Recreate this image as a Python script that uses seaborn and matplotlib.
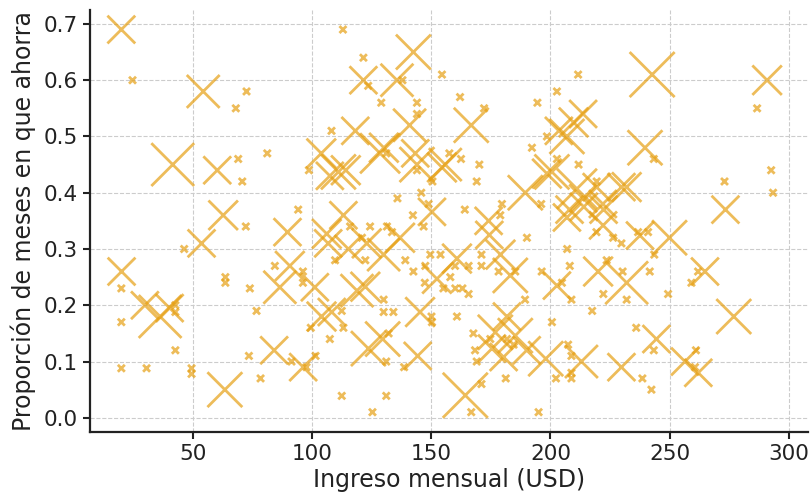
import pandas as pd
import matplotlib.pyplot as plt
import seaborn as sns

# valores: ingreso (USD), proporcion de meses, tamano del marcador
ingreso = [
    19.7, 24.4, 54.1, 72.3, 67.8, 41.3, 60.0, 68.8, 70.5, 81.0, 103.7, 107.3, 98.5, 108.0, 94.0, 62.5, 89.5,
    19.8, 29.6, 36.0, 40.0, 19.7, 19.7, 42.4, 42.4, 42.4, 19.7, 30.3, 46.1, 53.4, 72.0, 63.4, 63.4, 73.7,
    76.5, 63.2, 49.2, 49.2, 73.3, 78.2, 83.9, 96.1, 91.2, 97.5, 101.3, 90.5, 86.3, 84.2, 96.0, 96.0, 101.0,
    103.8, 99.3, 107.3, 106.6,
    112.8, 142.4, 121.4, 121.4, 135.5, 123.4, 137.8, 154.4, 128.9, 143.9, 143.9, 162.0, 166.7, 172.1, 194.5,
    202.7, 118.0, 140.8, 128.4, 130.0, 143.2, 155.8, 131.0, 157.5, 162.4, 170.1, 169.0, 143.9, 150.4, 145.7,
    135.7, 110.9, 114.0, 189.4, 200.6, 203.5, 192.2, 198.5, 179.6, 164.0, 196.1, 142.2, 150.2, 113.0, 174.0,
    143.9, 154.4, 148.8, 206.9, 209.7, 202.7, 211.8, 198.5, 211.1, 219.4, 219.4, 214.0, 206.9, 222.3, 178.9,
    211.6, 242.7, 291.0, 286.8, 213.7, 239.7, 243.4, 273.1, 292.7, 293.5, 273.5, 229.8, 232.0, 213.7, 222.0,
    208.0,
    190.1, 174.3, 149.5, 153.8, 160.7, 147.4, 157.9, 155.0, 160.0, 163.0, 165.6, 152.3, 183.1, 171.0, 171.0,
    178.2, 179.0, 189.3, 202.7, 196.3, 160.7, 150.2, 176.8, 185.2, 175.4, 198.0, 167.6, 168.3, 169.0, 181.2,
    171.0, 164.2, 166.7, 195.0, 112.3, 131.0, 125.2, 123.5, 129.5, 144.2, 131.0, 138.5, 113.0, 118.7, 129.9,
    129.9, 134.0, 145.2, 150.0, 142.4, 139.0, 129.9, 115.1, 122.2, 109.5, 108.1, 122.2,
    124.2, 131.3, 133.4, 120.8, 115.8, 146.7, 147.2, 112.3, 106.0, 122.8, 136.8,
    223.6, 204.8, 185.2, 159.9, 165.6, 200.6, 181.7,
    237.6, 250.0, 219.3, 226.3, 229.8, 236.8, 241.0, 243.6, 207.0, 264.9, 262.0, 259.2, 220.0, 232.0, 208.1,
    230.3, 241.7, 249.4, 222.2, 232.0, 208.8, 217.5, 277.0, 244.5, 236.0, 243.4, 213.0, 229.8, 207.4, 208.8,
    208.8, 208.8, 238.6, 242.4, 256.5, 262.1, 261.1, 260.7, 222.1,
    132.0, 180.3, 174.7, 181.7, 184.5, 202.3, 190.0,
]
proporcion = [
    0.69, 0.60, 0.58, 0.58, 0.55, 0.45, 0.44, 0.46, 0.42, 0.47, 0.47, 0.43, 0.44, 0.51, 0.37, 0.36, 0.33,
    0.26, 0.20, 0.18, 0.195, 0.23, 0.17, 0.20, 0.188, 0.12, 0.088, 0.088, 0.30, 0.31, 0.34, 0.25, 0.24, 0.23,
    0.19, 0.05, 0.088, 0.078, 0.11, 0.07, 0.12, 0.09, 0.10, 0.09, 0.11, 0.27, 0.232, 0.27, 0.26, 0.24, 0.232,
    0.18, 0.16, 0.14, 0.31,
    0.69, 0.65, 0.64, 0.60, 0.60, 0.59, 0.60, 0.61, 0.56, 0.56, 0.54, 0.57, 0.52, 0.55, 0.56,
    0.58, 0.51, 0.52, 0.47, 0.48, 0.47, 0.45, 0.47, 0.47, 0.46, 0.45, 0.42, 0.44, 0.42, 0.40,
    0.39, 0.437, 0.44, 0.40, 0.437, 0.51, 0.48, 0.50, 0.38, 0.37, 0.38, 0.36, 0.366, 0.36, 0.35,
    0.45, 0.445, 0.38, 0.50, 0.525, 0.46, 0.45, 0.434, 0.407, 0.41, 0.42, 0.375, 0.356, 0.37, 0.36,
    0.61, 0.61, 0.60, 0.55, 0.54, 0.48, 0.46, 0.42, 0.44, 0.40, 0.37, 0.41, 0.41, 0.39, 0.38,
    0.37,
    0.32, 0.325, 0.29, 0.29, 0.283, 0.27, 0.25, 0.23, 0.23, 0.23, 0.22, 0.247, 0.253, 0.29, 0.27,
    0.26, 0.29, 0.21, 0.235, 0.26, 0.18, 0.17, 0.152, 0.146, 0.123, 0.105, 0.15, 0.12, 0.10, 0.07,
    0.06, 0.04, 0.01, 0.01, 0.039, 0.039, 0.01, 0.123, 0.14, 0.11, 0.10, 0.09, 0.16, 0.226, 0.21,
    0.188, 0.188, 0.188, 0.18, 0.26, 0.28, 0.29, 0.30, 0.28, 0.28, 0.188, 0.233,
    0.34, 0.34, 0.33, 0.32, 0.34, 0.34, 0.24, 0.19, 0.327, 0.31, 0.32,
    0.28, 0.24, 0.26, 0.27, 0.27, 0.17, 0.18,
    0.324, 0.32, 0.33, 0.32, 0.31, 0.33, 0.33, 0.29, 0.30, 0.26, 0.26, 0.24, 0.26, 0.24, 0.27,
    0.26, 0.26, 0.22, 0.22, 0.21, 0.21, 0.19, 0.18, 0.14, 0.16, 0.12, 0.10, 0.09, 0.13, 0.11,
    0.08, 0.07, 0.07, 0.05, 0.10, 0.08, 0.12, 0.09, 0.342,
    0.15, 0.108, 0.14, 0.14, 0.13, 0.07, 0.12,
]
tamano = [
    400, 25, 560, 25, 25, 950, 400, 25, 25, 25, 450, 400, 25, 25, 25, 450, 400,
    400, 400, 950, 400, 25, 25, 25, 25, 25, 25, 25, 25, 400, 25, 25, 25, 25,
    25, 630, 25, 25, 25, 25, 400, 400, 25, 25, 25, 450, 560, 25, 25, 25, 400,
    450, 25, 25, 400,
    25, 630, 25, 400, 560, 25, 25, 25, 25, 25, 25, 25, 630, 25, 25,
    25, 400, 560, 830, 450, 400, 560, 25, 25, 25, 25, 25, 25, 25, 25,
    25, 630, 450, 630, 630, 400, 25, 25, 25, 25, 25, 25, 400, 400, 400,
    630, 450, 25, 630, 450, 25, 25, 450, 830, 400, 25, 400, 400, 400, 25,
    25, 1050, 450, 25, 400, 630, 25, 25, 25, 25, 400, 400, 450, 400, 400,
    400,
    25, 400, 25, 25, 450, 25, 25, 25, 25, 25, 25, 450, 630, 25, 25,
    25, 450, 25, 400, 25, 25, 25, 630, 630, 400, 630, 25, 25, 25, 25,
    25, 1050, 25, 25, 25, 25, 25, 630, 630, 400, 25, 25, 25, 560, 25,
    25, 25, 450, 25, 25, 25, 560, 400, 25, 25, 400, 450,
    25, 25, 25, 25, 25, 25, 25, 25, 450, 450, 450,
    25, 25, 25, 25, 25, 25, 400,
    400, 630, 25, 25, 25, 25, 25, 25, 25, 400, 25, 25, 450, 950, 25,
    25, 25, 25, 25, 25, 25, 25, 630, 400, 25, 25, 560, 400, 25, 25,
    25, 25, 25, 25, 400, 400, 25, 25, 400,
    25, 400, 25, 25, 25, 25, 400,
]

df = pd.DataFrame({"ingreso": ingreso, "proporcion": proporcion, "tamano": tamano})

sns.set_style("whitegrid", {"grid.linestyle": "--", "grid.color": "#cccccc",
                            "axes.edgecolor": "#222222", "text.color": "#222222",
                            "axes.labelcolor": "#222222", "xtick.color": "#222222",
                            "ytick.color": "#222222"})
plt.rcParams["font.family"] = ["DejaVu Sans"]

fig, ax = plt.subplots(figsize=(8.1, 4.93), dpi=100)
sns.scatterplot(data=df, x="ingreso", y="proporcion", size="tamano",
                sizes=(25, 1050), size_norm=(25, 1050), marker="x",
                color="#e6a014", alpha=0.7, linewidth=2, legend=False, ax=ax)

ax.set_xlim(6.5, 308)
ax.set_ylim(-0.025, 0.725)
ax.set_xticks([50, 100, 150, 200, 250, 300])
ax.set_yticks([0.0, 0.1, 0.2, 0.3, 0.4, 0.5, 0.6, 0.7])
ax.set_yticklabels([f"{v:.1f}" for v in ax.get_yticks()])
ax.set_xlabel("Ingreso mensual (USD)", fontsize=17, labelpad=3)
ax.set_ylabel("Proporción de meses en que ahorra", fontsize=17, labelpad=6)
ax.tick_params(axis="both", labelsize=15.5, length=5, width=1.5, color="#222222",
               bottom=True, left=True)
ax.grid(True, linewidth=0.8)
for side in ["top", "right"]:
    ax.spines[side].set_visible(False)
for side in ["left", "bottom"]:
    ax.spines[side].set_linewidth(1.6)

plt.subplots_adjust(left=0.111, right=0.997, top=0.980, bottom=0.124)
plt.savefig("out.png", dpi=100)
